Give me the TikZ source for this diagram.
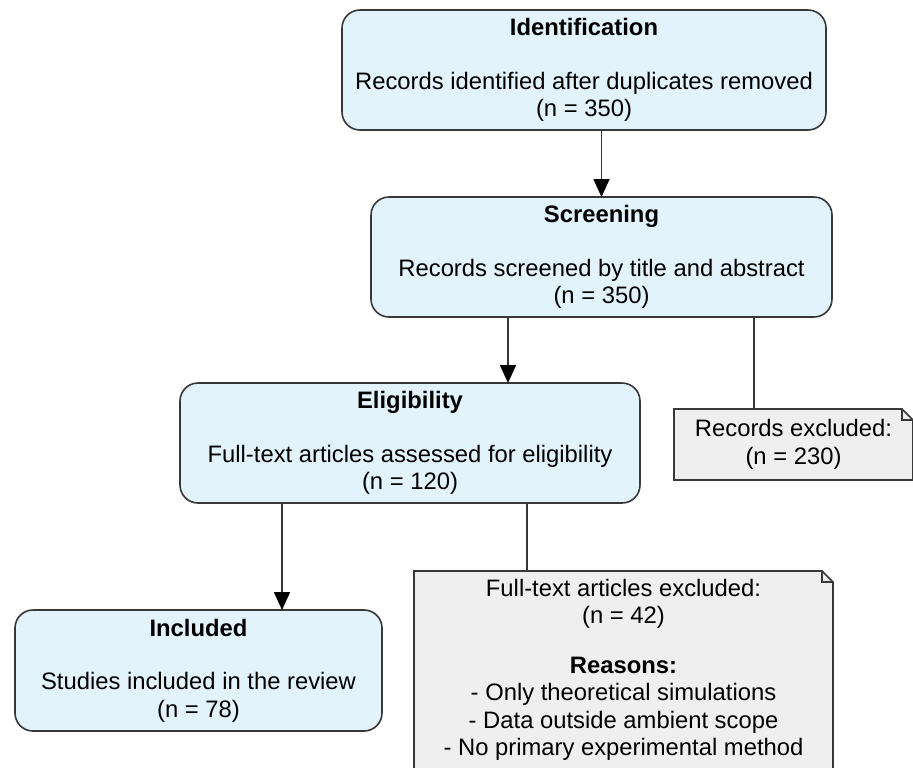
\documentclass[tikz,border=0pt]{standalone}
\usepackage{fontspec}
\setmainfont{Liberation Sans}
\usetikzlibrary{arrows.meta}
\definecolor{stepblue}{RGB}{226,243,252}
\definecolor{notegray}{RGB}{239,239,239}
\definecolor{linegray}{RGB}{56,56,56}

\begin{document}
\begin{tikzpicture}[x=0.5pt,y=-0.5pt,
  font=\fontsize{11.9}{13.75}\selectfont,
  phase/.style={draw=linegray, line width=0.8pt, fill=stepblue, rounded corners=9pt, align=center, inner sep=0pt, outer sep=0pt},
  notebox/.style={fill=notegray, align=center, inner sep=0pt, outer sep=0pt},
  flow/.style={draw=linegray, line width=0.8pt, -{Triangle[length=9pt,width=8pt,color=black]}},
  link/.style={draw=linegray, line width=0.8pt}]
\useasboundingbox (0,0) rectangle (913,767);
\clip (0,0) rectangle (913,767);

\node[phase, minimum width=242pt, minimum height=60pt] (ident) at (584,70) {\textbf{Identification}\\[13pt]Records identified after duplicates removed\\(n = 350)};
\node[phase, minimum width=230.5pt, minimum height=60pt] (screen) at (601.5,257) {\textbf{Screening}\\[13pt]Records screened by title and abstract\\(n = 350)};
\node[phase, minimum width=230pt, minimum height=60pt] (elig) at (410,443) {\textbf{Eligibility}\\[13pt]Full-text articles assessed for eligibility\\(n = 120)};
\node[phase, minimum width=183.5pt, minimum height=60.5pt] (incl) at (198.5,670.5) {\textbf{Included}\\[13pt]Studies included in the review\\(n = 78)};

\node[notebox, minimum width=119.5pt, minimum height=35.5pt] (rexcl) at (793.5,444.5) {Records excluded:\\(n = 230)};
\node[notebox, minimum width=209.5pt, minimum height=99pt] (fexcl) at (623.5,670) {Full-text articles excluded:\\(n = 42)\\[11pt]\textbf{Reasons:}\\- Only theoretical simulations\\- Data outside ambient scope\\- No primary experimental method};

% folded corner of the notes
\foreach \n in {rexcl,fexcl} {
  \fill[white] ([xshift=-5.5pt]\n.north east) -- (\n.north east) -- ([yshift=-5.5pt]\n.north east) -- cycle;
  \draw[link] (\n.north west) -- ([xshift=-5.5pt]\n.north east) -- ([yshift=-5.5pt]\n.north east) -- (\n.south east) -- (\n.south west) -- cycle
    ([xshift=-5.5pt]\n.north east) |- ([yshift=-5.5pt]\n.north east);
}

\draw[flow] (ident.south -| screen.north) -- (screen.north);
\draw[flow] ([xshift=-46.75pt]screen.south) -- ([xshift=-46.75pt]screen.south |- elig.north);
\draw[link] ([xshift=76.25pt]screen.south) -- ([xshift=76.25pt]screen.south |- rexcl.north);
\draw[flow] ([xshift=-64pt]elig.south) -- ([xshift=-64pt]elig.south |- incl.north);
\draw[link] ([xshift=58.5pt]elig.south) -- ([xshift=58.5pt]elig.south |- fexcl.north);
\end{tikzpicture}
\end{document}
